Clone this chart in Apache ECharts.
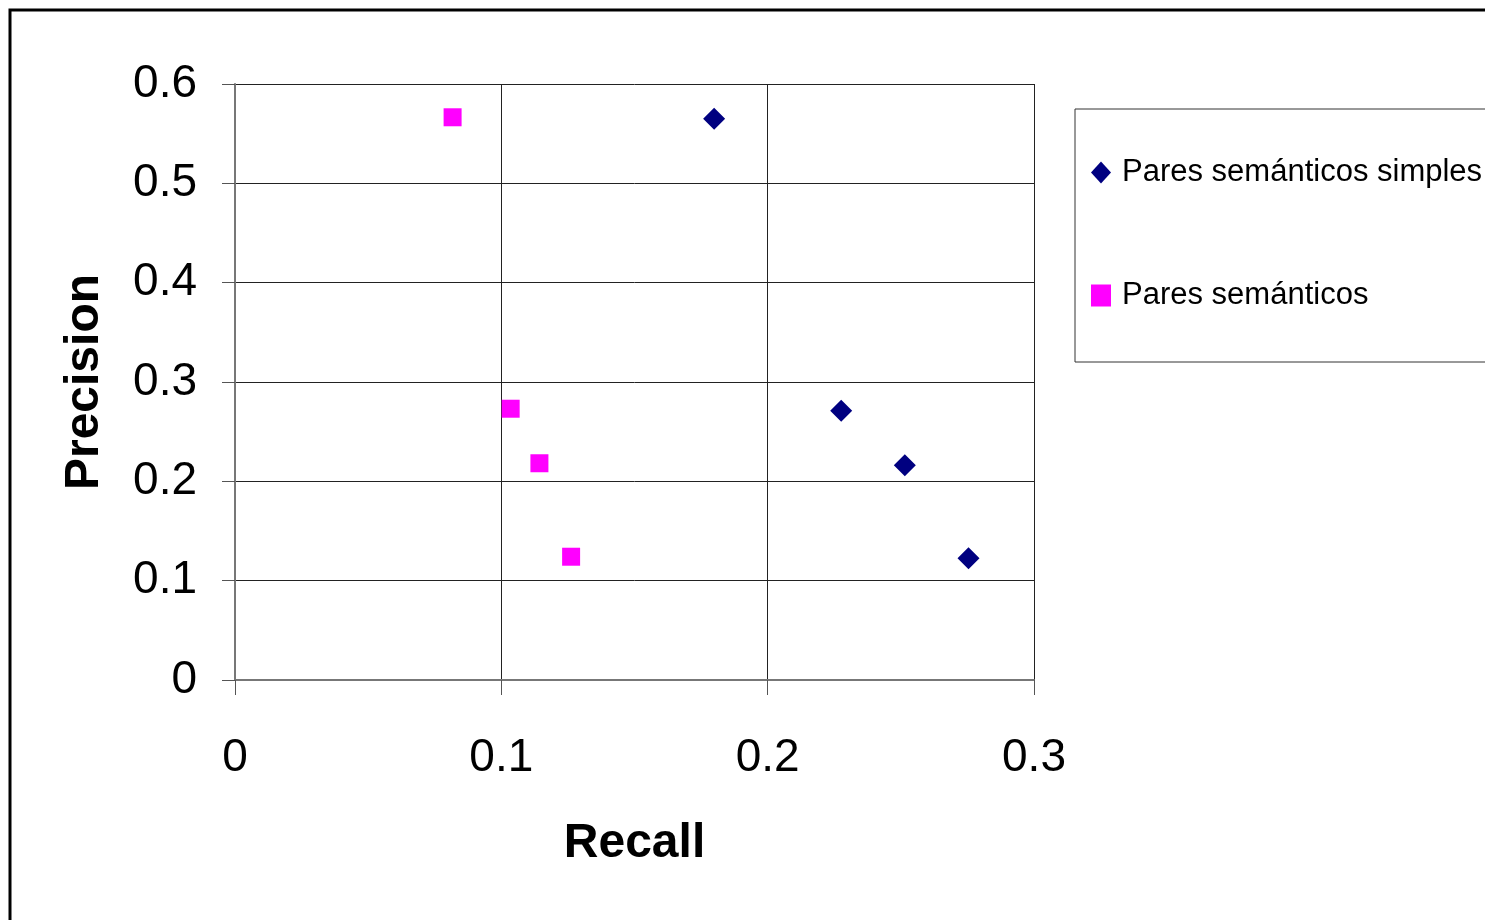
<!DOCTYPE html>
<html>
<head>
<meta charset="utf-8">
<title>Precision / Recall</title>
<script src="https://cdn.jsdelivr.net/npm/echarts@6/dist/echarts.min.js"></script>
<style>
    html,body{margin:0;padding:0;background:#fff;}
    #main{width:1485px;height:920px;}
</style>
</head>
<body>
<div id="main"></div>
<script>
//数据
var seriesNames = ['Pares semánticos simples', 'Pares semánticos'];
var recallSimples = [0.1799, 0.2276, 0.2515, 0.2754];
var precisionSimples = [0.5651, 0.2711, 0.2161, 0.1225];
var recallPares = [0.0817, 0.1035, 0.1143, 0.1262];
var precisionPares = [0.5665, 0.2731, 0.2182, 0.1241];
var xTicks = [0, 0.1, 0.2, 0.3];
var yTicks = [0, 0.1, 0.2, 0.3, 0.4, 0.5, 0.6];

function pairs(xs, ys){
    var arr = [];
    xs.forEach(function(val, index){
        arr.push([val, ys[index]]);
    })
    return arr;
}

var myChart = echarts.init(document.getElementById('main'));
var font = 'Liberation Sans, Arial, sans-serif';

var option = {
    backgroundColor: '#fff',
    animation: false,
    grid: {left: 235, right: 451, top: 84, bottom: 240},
    graphic: [
        {type: 'rect', shape: {x: 10, y: 10, width: 1600, height: 1000},
         style: {fill: 'none', stroke: '#000', lineWidth: 3}},
        {type: 'rect', shape: {x: 1075, y: 109, width: 500, height: 253},
         style: {fill: 'none', stroke: '#333', lineWidth: 1}}
    ],
    legend: {
        orient: 'vertical',
        left: 1086,
        top: 152,
        itemGap: 92,
        itemWidth: 20,
        itemHeight: 22,
        textStyle: {fontFamily: font, fontSize: 31, color: '#000', padding: [0, 0, 0, 6]},
        data: [{name: seriesNames[0], icon: 'diamond'}, {name: seriesNames[1], icon: 'rect'}]
    },
    xAxis: {
        type: 'value',
        min: xTicks[0],
        max: xTicks[xTicks.length - 1],
        interval: 0.1,
        name: 'Recall',
        nameLocation: 'middle',
        nameGap: 140,
        nameTextStyle: {fontFamily: font, fontSize: 48, fontWeight: 'bold', color: '#000'},
        axisLine: {show: true, onZero: false, lineStyle: {color: '#777', width: 2}},
        axisTick: {show: true, length: 15, lineStyle: {color: '#555'}},
        axisLabel: {margin: 55, fontFamily: font, fontSize: 46, color: '#000'},
        splitLine: {show: true, lineStyle: {color: '#222', width: 1}}
    },
    yAxis: {
        type: 'value',
        min: yTicks[0],
        max: yTicks[yTicks.length - 1],
        interval: 0.1,
        name: 'Precision',
        nameLocation: 'middle',
        nameGap: 126,
        nameTextStyle: {fontFamily: font, fontSize: 48, fontWeight: 'bold', color: '#000'},
        axisLine: {show: true, onZero: false, lineStyle: {color: '#777', width: 2}},
        axisTick: {show: true, length: 13, lineStyle: {color: '#555'}},
        axisLabel: {margin: 38, fontFamily: font, fontSize: 46, color: '#000'},
        splitLine: {show: true, lineStyle: {color: '#222', width: 1}}
    },
    series: [{
        name: seriesNames[0],
        type: 'scatter',
        symbol: 'diamond',
        symbolSize: 22,
        itemStyle: {color: '#000080', opacity: 1},
        data: pairs(recallSimples, precisionSimples)
    }, {
        name: seriesNames[1],
        type: 'scatter',
        symbol: 'rect',
        symbolSize: 18,
        itemStyle: {color: '#ff00ff', opacity: 1},
        data: pairs(recallPares, precisionPares)
    }]
};

myChart.setOption(option);
</script>
</body>
</html>
